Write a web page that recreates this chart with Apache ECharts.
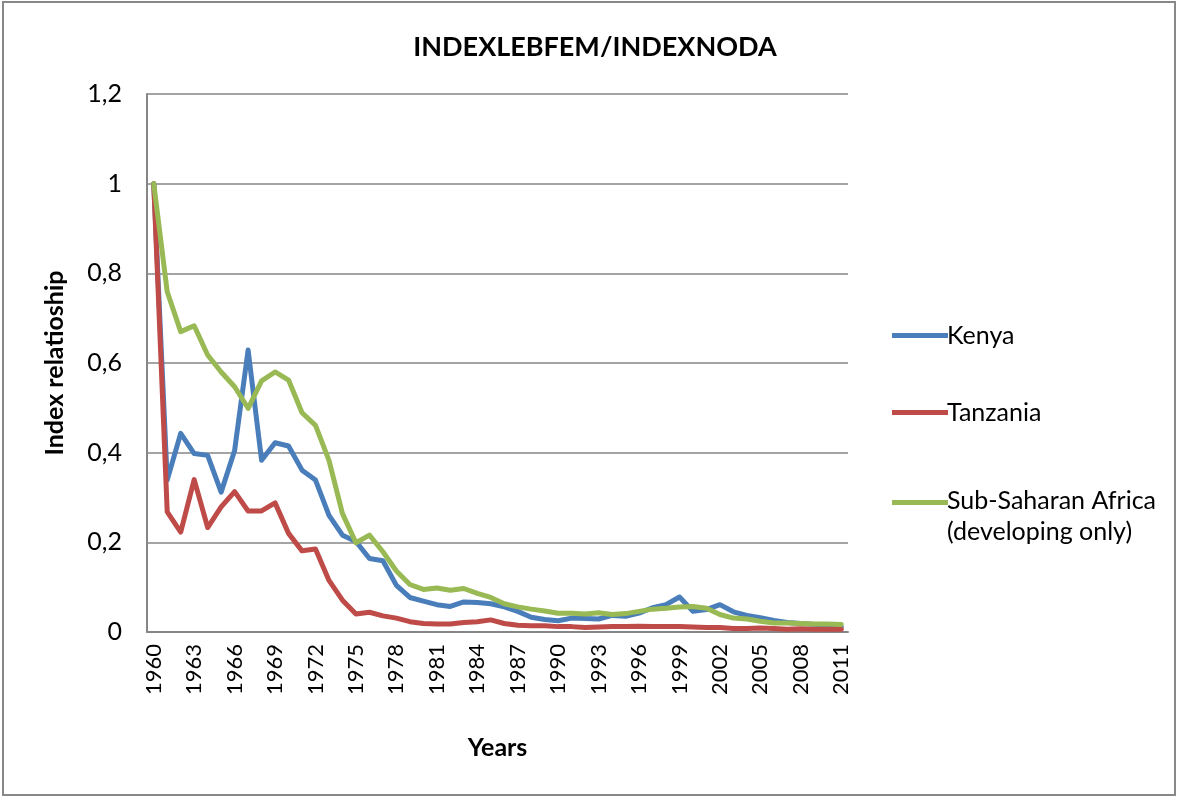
<!DOCTYPE html>
<html>
<head>
<meta charset="utf-8">
<script src="https://cdn.jsdelivr.net/npm/echarts@6/dist/echarts.min.js"></script>
<style>
html,body{margin:0;padding:0;background:#fff;}
#chart{width:1179px;height:798px;}
</style>
</head>
<body>
<div id="chart"></div>
<script>
const years = [];
for (let y = 1960; y <= 2011; y++) years.push(String(y));

const kenya = [1.0,0.339,0.443,0.398,0.394,0.312,0.405,0.629,0.383,0.422,0.415,0.361,0.339,0.260,0.216,0.202,0.164,0.159,0.104,0.077,0.069,0.061,0.057,0.067,0.066,0.063,0.056,0.046,0.033,0.028,0.025,0.031,0.030,0.029,0.037,0.035,0.042,0.054,0.061,0.078,0.046,0.050,0.061,0.045,0.037,0.032,0.026,0.021,0.019,0.017,0.014,0.011];
const tanzania = [1.0,0.268,0.223,0.340,0.233,0.279,0.313,0.270,0.270,0.288,0.220,0.181,0.185,0.115,0.071,0.040,0.044,0.036,0.031,0.023,0.019,0.018,0.018,0.021,0.023,0.027,0.019,0.015,0.014,0.014,0.012,0.012,0.010,0.011,0.012,0.012,0.013,0.012,0.012,0.012,0.011,0.010,0.010,0.008,0.008,0.009,0.008,0.006,0.007,0.006,0.006,0.006];
const ssa = [1.0,0.759,0.670,0.683,0.618,0.580,0.547,0.499,0.560,0.580,0.562,0.489,0.461,0.383,0.264,0.199,0.216,0.179,0.136,0.106,0.095,0.098,0.093,0.097,0.086,0.077,0.063,0.056,0.051,0.047,0.042,0.042,0.040,0.043,0.039,0.041,0.046,0.051,0.053,0.056,0.057,0.053,0.039,0.031,0.029,0.024,0.020,0.020,0.019,0.018,0.018,0.017];

const seriesNames = ['Kenya', 'Tanzania', 'Sub-Saharan Africa\n(developing only)'];
const colors = ['#4A7EBB', '#BE4B48', '#98B954'];

const FONT = 'Lato, "Open Sans", sans-serif';
const chart = echarts.init(document.getElementById('chart'));

function mkSeries(name, data, color) {
  return {
    name: name, type: 'line', data: data, symbol: 'none',
    lineStyle: { width: 5, color: color, cap: 'round', join: 'round' },
    itemStyle: { color: color },
    emphasis: { disabled: true }
  };
}

chart.setOption({
  animation: false,
  backgroundColor: '#fff',
  title: {
    text: 'INDEXLEBFEM/INDEXNODA',
    left: 590, top: 29, textAlign: 'center',
    textStyle: { fontFamily: FONT, fontSize: 27, fontWeight: 'bold', color: '#000' }
  },
  graphic: [{
    type: 'rect', shape: { x: 3, y: 2, width: 1172, height: 793 },
    style: { fill: 'none', stroke: '#888', lineWidth: 2 }, silent: true
  }],
  legend: [{
    orient: 'vertical', left: 887, top: 318, itemGap: 52,
    itemWidth: 56, itemHeight: 22, icon: 'path://M0,8.5 L56,8.5 L56,13.5 L0,13.5 Z',
    data: [seriesNames[0], seriesNames[1]],
    textStyle: { fontFamily: FONT, fontSize: 25, color: '#000', padding: [0,0,0,-6] }
  }, {
    orient: 'vertical', left: 887, top: 480,
    itemWidth: 56, itemHeight: 32, icon: 'path://M0,0 L56,0 L56,5 L0,5 Z M0,32 L0.001,32 L0,32 Z',
    data: [seriesNames[2]],
    textStyle: { fontFamily: FONT, fontSize: 25, color: '#000', lineHeight: 31, padding: [0,0,0,-6] }
  }],
  grid: { left: 147, right: 331, top: 94, bottom: 166 },
  xAxis: {
    type: 'category', data: years, boundaryGap: true,
    name: 'Years', nameLocation: 'middle', nameGap: 103,
    nameTextStyle: { fontFamily: FONT, fontSize: 25, fontWeight: 'bold', color: '#000' },
    axisLine: { lineStyle: { color: '#868686', width: 2 } },
    axisTick: { show: false },
    axisLabel: { interval: 2, rotate: 90, fontFamily: FONT, fontSize: 22, color: '#000', margin: 12 }
  },
  yAxis: {
    type: 'value', min: 0, max: 1.2, interval: 0.2,
    name: 'Index relatioship', nameLocation: 'middle', nameGap: 80,
    nameTextStyle: { fontFamily: FONT, fontSize: 25, fontWeight: 'bold', color: '#000' },
    axisLine: { show: true, lineStyle: { color: '#868686', width: 2 } },
    axisTick: { show: false },
    splitLine: { lineStyle: { color: '#868686', width: 1.5 } },
    axisLabel: {
      fontFamily: FONT, fontSize: 25, color: '#000', margin: 25,
      formatter: v => String(Math.round(v * 10) / 10).replace('.', ',')
    }
  },
  series: [
    mkSeries(seriesNames[0], kenya, colors[0]),
    mkSeries(seriesNames[1], tanzania, colors[1]),
    mkSeries(seriesNames[2], ssa, colors[2])
  ]
});
</script>
</body>
</html>
